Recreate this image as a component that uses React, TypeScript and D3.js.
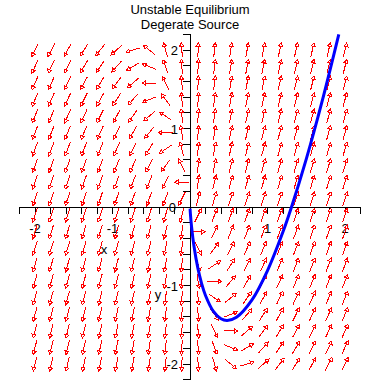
import React from "react";
import * as d3 from "d3";

// Linear system  x' = a11 x + a12 y,  y' = a21 x + a22 y  (degenerate source)
const rowX = [1, 0];
const rowY = [3, 1];

// Direction-field sample positions (20 x 20 grid on [-2, 2])
const gridX = [-2, -1.789, -1.579, -1.368, -1.158, -0.947, -0.737, -0.526, -0.316, -0.105, 0.105, 0.316, 0.526, 0.737, 0.947, 1.158, 1.368, 1.579, 1.789, 2];
const gridY = [-2, -1.789, -1.579, -1.368, -1.158, -0.947, -0.737, -0.526, -0.316, -0.105, 0.105, 0.316, 0.526, 0.737, 0.947, 1.158, 1.368, 1.579, 1.789, 2];

// Solution curve
const curveX = [0.001, 0.005, 0.02, 0.05, 0.1, 0.15, 0.2, 0.3, 0.4, 0.48, 0.6, 0.8, 1.0, 1.2, 1.31, 1.5, 1.7, 1.92];
const curveY = [-0.02, -0.084, -0.251, -0.49, -0.772, -0.975, -1.128, -1.327, -1.424, -1.445, -1.405, -1.184, -0.81, -0.316, 0.0, 0.609, 1.329, 2.2];

const xLabels = [-2, -1, 1, 2];
const yLabels = [2, 1, -1, -2];
const minorTicks = [-2.2, -2, -1.8, -1.6, -1.4, -1.2, -1, -0.8, -0.6, -0.4, -0.2, 0.2, 0.4, 0.6, 0.8, 1, 1.2, 1.4, 1.6, 1.8, 2, 2.2];

const titleLines = ["Unstable Equilibrium", "Degerate Source"];

export default function App() {
  const W = 382;
  const H = 382;
  const x = d3.scaleLinear().domain([-2, 2]).range([35, 345]);
  const y = d3.scaleLinear().domain([-2, 2]).range([364, 50]);
  const x0 = x(0);
  const y0 = y(0);
  const L = 14.5;
  const font = "'Liberation Sans', Arial, sans-serif";

  const arrows: { x1: number; y1: number; x2: number; y2: number; head: string }[] = [];
  gridX.forEach((gx) => {
    gridY.forEach((gy) => {
      const vx = rowX[0] * gx + rowX[1] * gy;
      const vy = rowY[0] * gx + rowY[1] * gy;
      const px = vx * (x(1) - x(0));
      const py = vy * (y(1) - y(0));
      const m = Math.hypot(px, py) || 1;
      const ux = px / m;
      const uy = py / m;
      const cx = x(gx);
      const cy = y(gy);
      const x1 = cx - (ux * L) / 2;
      const y1 = cy - (uy * L) / 2;
      const x2 = cx + (ux * L) / 2;
      const y2 = cy + (uy * L) / 2;
      const hl = 3.5;
      const hw = 2;
      const bx = x2 - ux * hl;
      const by = y2 - uy * hl;
      const head = `M${x2},${y2}L${bx - uy * hw},${by + ux * hw}L${bx + uy * hw},${by - ux * hw}Z`;
      arrows.push({ x1, y1, x2, y2, head });
    });
  });

  const line = d3
    .line<number>()
    .x((_, i) => x(curveX[i]))
    .y((d) => y(d))
    .curve(d3.curveCatmullRom);

  return (
    <svg
      width={W}
      height={H}
      style={{ position: "absolute", left: 0, top: 0, background: "#fff" }}
    >
      <rect x={0} y={0} width={W} height={H} fill="#fff" />
      {titleLines.map((t, i) => (
        <text
          key={t}
          x={190}
          y={14 + i * 15}
          textAnchor="middle"
          fontFamily={font}
          fontSize={13}
          fill="#000"
        >
          {t}
        </text>
      ))}

      {/* axes */}
      <g stroke="#000" strokeWidth={1} shapeRendering="crispEdges">
        <line x1={x(-2.2)} x2={x(2.2)} y1={y0} y2={y0} />
        <line x1={x0} x2={x0} y1={y(2.2)} y2={y(-2.2)} />
        {minorTicks.map((t) => (
          <line key={"xt" + t} x1={x(t)} x2={x(t)} y1={y0} y2={y0 + 7} />
        ))}
        {minorTicks.map((t) => (
          <line key={"yt" + t} x1={x0 - 7} x2={x0} y1={y(t)} y2={y(t)} />
        ))}
      </g>
      <g fontFamily={font} fontSize={13} fill="#000">
        {xLabels.map((t) => (
          <text key={"xl" + t} x={x(t)} y={y0 + 26} textAnchor="middle">
            {t}
          </text>
        ))}
        {yLabels.map((t) => (
          <text key={"yl" + t} x={x0 - 12} y={y(t) + 5} textAnchor="end">
            {t}
          </text>
        ))}
        <text x={x0 - 14} y={y0 + 5} textAnchor="end">0</text>
        <text x={104} y={254} textAnchor="middle">x</text>
        <text x={158} y={299} textAnchor="middle">y</text>
      </g>

      {/* direction field */}
      <g stroke="#ff0000" strokeWidth={1} fill="none" shapeRendering="crispEdges">
        {arrows.map((a, i) => (
          <g key={i}>
            <line x1={a.x1} y1={a.y1} x2={a.x2} y2={a.y2} />
            <path d={a.head} fill="#ffffff" />
          </g>
        ))}
      </g>

      {/* solution curve */}
      <path d={line(curveY) || ""} fill="none" stroke="#0000ff" strokeWidth={3} />
    </svg>
  );
}
